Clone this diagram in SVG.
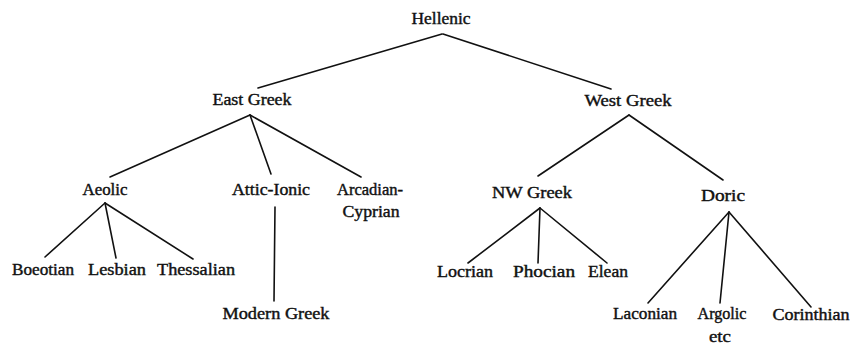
<svg xmlns="http://www.w3.org/2000/svg" width="853" height="345" viewBox="0 0 853 345">
<style>
.t text{font-family:'Liberation Serif','DejaVu Serif',serif;font-size:16px;fill:#111;text-anchor:middle;stroke:#111;stroke-width:0.4}
.c line{stroke:#111;stroke-width:1.6;stroke-linecap:round}
</style>
<rect width="853" height="345" fill="#fff"/>
<g class="c" id="connectors">
<line x1="442" y1="34" x2="258" y2="88"/>
<line x1="443" y1="34" x2="611" y2="89"/>
<line x1="250" y1="115" x2="110" y2="177"/>
<line x1="250" y1="115" x2="271" y2="174"/>
<line x1="250" y1="115" x2="361" y2="177"/>
<line x1="629" y1="115" x2="538" y2="176"/>
<line x1="629" y1="115" x2="723" y2="180"/>
<line x1="105" y1="203" x2="45" y2="257"/>
<line x1="105" y1="203" x2="116" y2="258"/>
<line x1="105" y1="203" x2="193" y2="259"/>
<line x1="275" y1="207" x2="274" y2="301"/>
<line x1="540" y1="208" x2="468" y2="263"/>
<line x1="540" y1="208" x2="538" y2="263"/>
<line x1="540" y1="208" x2="607" y2="263"/>
<line x1="729" y1="212" x2="648" y2="303"/>
<line x1="729" y1="212" x2="720" y2="303"/>
<line x1="729" y1="212" x2="811" y2="307"/>
</g>
<g class="t" font-family="Liberation Serif, DejaVu Serif, serif">
<g id="hellenic"><text x="441" y="24" textLength="59" lengthAdjust="spacingAndGlyphs">Hellenic</text></g>
<g id="east-greek"><text x="252" y="105" textLength="79" lengthAdjust="spacingAndGlyphs">East Greek</text></g>
<g id="west-greek"><text x="628" y="106" textLength="87" lengthAdjust="spacingAndGlyphs">West Greek</text></g>
<g id="aeolic"><text x="105" y="195" textLength="45" lengthAdjust="spacingAndGlyphs">Aeolic</text></g>
<g id="attic-ionic"><text x="271" y="195" textLength="78" lengthAdjust="spacingAndGlyphs">Attic-Ionic</text></g>
<g id="arcadian-cyprian"><text x="370" y="195" textLength="66" lengthAdjust="spacingAndGlyphs">Arcadian-</text><text x="371" y="217" textLength="57" lengthAdjust="spacingAndGlyphs">Cyprian</text></g>
<g id="boeotian"><text x="43" y="275" textLength="62" lengthAdjust="spacingAndGlyphs">Boeotian</text></g>
<g id="lesbian"><text x="117" y="275" textLength="58" lengthAdjust="spacingAndGlyphs">Lesbian</text></g>
<g id="thessalian"><text x="196" y="275" textLength="78" lengthAdjust="spacingAndGlyphs">Thessalian</text></g>
<g id="modern-greek"><text x="276" y="319" textLength="107" lengthAdjust="spacingAndGlyphs">Modern Greek</text></g>
<g id="nw-greek"><text x="532" y="198" textLength="80" lengthAdjust="spacingAndGlyphs">NW Greek</text></g>
<g id="doric"><text x="723" y="201" textLength="44" lengthAdjust="spacingAndGlyphs">Doric</text></g>
<g id="locrian"><text x="465" y="277" textLength="56" lengthAdjust="spacingAndGlyphs">Locrian</text></g>
<g id="phocian"><text x="544" y="277" textLength="62" lengthAdjust="spacingAndGlyphs">Phocian</text></g>
<g id="elean"><text x="608" y="277" textLength="40" lengthAdjust="spacingAndGlyphs">Elean</text></g>
<g id="laconian"><text x="645" y="319" textLength="64" lengthAdjust="spacingAndGlyphs">Laconian</text></g>
<g id="argolic"><text x="722" y="319" textLength="49" lengthAdjust="spacingAndGlyphs">Argolic</text><text x="720" y="342" textLength="22" lengthAdjust="spacingAndGlyphs">etc</text></g>
<g id="corinthian"><text x="811" y="320" textLength="77" lengthAdjust="spacingAndGlyphs">Corinthian</text></g>
</g>
</svg>
